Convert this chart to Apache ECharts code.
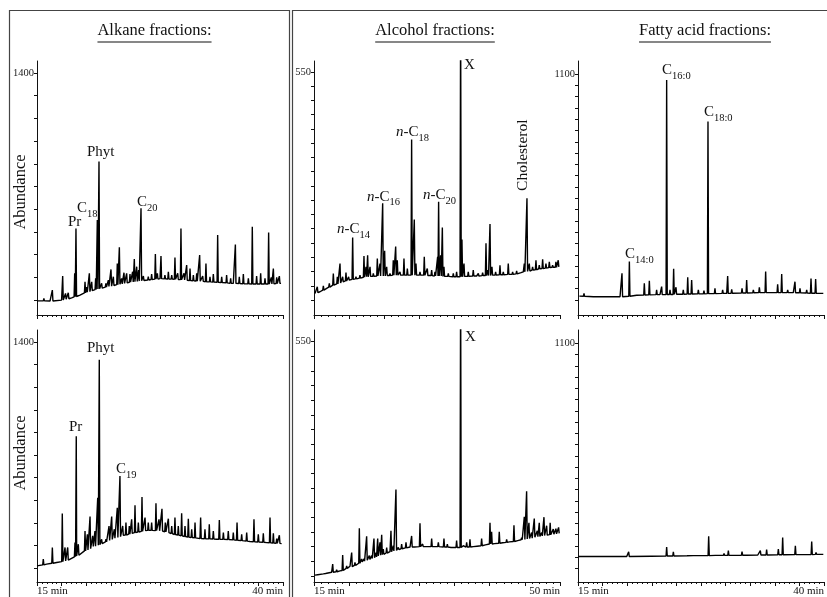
<!DOCTYPE html>
<html><head><meta charset="utf-8">
<script src="https://cdn.jsdelivr.net/npm/echarts@6/dist/echarts.min.js"></script>
<style>html,body{margin:0;padding:0;background:#fff}#c{width:827px;height:597px}</style>
</head><body><div id="c"></div>
<script>
// ---------------- DATA ----------------
// Each trace = baseline points [time, abundance] + peaks [time, apex, foot]
const alkTopBase = [[15.0,-5],[16.32,-6],[17.5,0],[18.52,14],[19.37,31],[20.2,51],[21.4,72],[22.42,86],[23.77,103],[25.47,119],[27.5,132],[29.19,128],[30.89,119],[32.92,111],[34.95,103],[36.98,99],[38.34,99],[39.8,103]];
const alkTopPeaks = [[15.7,10,-5],[16.56,62,-6],[17.61,148,0],[17.9,41,5],[18.18,45,8],[18.83,165,20],[18.96,442,22],[19.88,113,45],[20.05,80,48],[20.32,165,52],[20.56,113,58],[20.96,134,65],[21.13,494,68],[21.3,854,70],[21.57,103,74],[22.0,103,80],[22.25,123,84],[22.52,189,86],[22.76,144,90],[23.16,226,95],[23.37,325,97],[23.6,134,100],[23.84,169,103],[24.11,165,106],[24.45,160,110],[24.72,175,112],[24.89,253,113],[25.13,206,115],[25.33,185,117],[25.57,566,119],[25.81,148,121],[26.31,144,124],[26.65,160,127],[27.03,284,129],[27.23,165,130],[27.6,271,132],[28.0,154,131],[28.35,175,130],[28.69,154,129],[29.02,263,128],[29.3,165,127],[29.63,442,126],[29.94,165,124],[30.21,216,122],[30.55,195,120],[30.89,154,119],[31.23,165,117],[31.53,278,116],[31.84,148,115],[32.17,226,113],[32.58,144,112],[32.92,160,111],[33.36,401,110],[33.77,144,108],[34.27,154,106],[34.68,134,104],[35.16,343,103],[35.56,144,102],[35.97,160,101],[36.48,134,100],[36.88,452,99],[37.32,148,99],[37.73,165,99],[38.17,134,99],[38.54,416,99],[38.81,140,100],[39.02,195,101],[39.36,140,102],[39.63,148,103]];

const alkBotBase = [[15.0,14],[15.98,25],[17.0,35],[18.01,51],[19.03,76],[19.88,107],[20.72,134],[21.74,158],[22.76,183],[23.77,204],[24.79,220],[26.14,234],[27.5,230],[28.85,210],[30.21,193],[31.56,183],[33.26,179],[34.95,175],[36.65,165],[38.34,158],[39.86,152]];
const alkBotPeaks = [[15.64,56,20],[16.56,128,30],[17.57,339,40],[17.85,128,45],[18.12,128,50],[18.86,158,70],[18.99,817,75],[19.2,148,80],[19.88,230,107],[20.12,210,112],[20.39,319,120],[20.66,200,130],[20.89,230,136],[21.17,436,142],[21.33,1290,145],[21.57,179,152],[22.01,179,162],[22.32,261,172],[22.59,319,178],[22.86,241,185],[23.16,374,190],[23.43,570,195],[23.71,261,200],[24.04,282,205],[24.38,261,210],[24.62,302,215],[24.96,389,220],[25.3,282,224],[25.67,440,228],[25.98,313,232],[26.31,282,234],[26.65,282,234],[27.09,401,232],[27.4,302,231],[27.7,368,230],[28.04,282,225],[28.35,306,220],[28.69,261,214],[29.02,313,208],[29.36,261,204],[29.7,339,200],[30.04,261,196],[30.38,306,192],[30.72,241,190],[31.06,282,187],[31.63,313,183],[32.07,241,182],[32.51,271,181],[32.92,230,180],[33.53,298,179],[33.94,220,178],[34.44,230,177],[34.95,220,175],[35.33,282,173],[35.8,210,170],[36.31,220,167],[37.05,302,163],[37.49,210,162],[38.0,216,160],[38.68,313,157],[39.02,216,155],[39.36,183,154],[39.63,204,153]];

const alcTopBase = [[15.14,16],[15.85,20],[16.8,28],[17.75,36],[19.17,44],[20.6,50],[22.49,56],[24.39,58],[26.76,60],[29.6,60],[32.45,58],[35.29,56],[38.14,58],[40.98,60],[43.83,63],[44.78,68],[46.67,74],[48.57,78],[49.9,80]];
const alcTopPeaks = [[15.47,32,18],[16.33,34,24],[17.18,40,31],[17.75,64,36],[18.32,56,39],[18.7,88,41],[19.08,56,44],[19.55,66,46],[19.93,56,48],[20.5,151,50],[20.97,56,51],[21.54,60,53],[22.11,106,55],[22.4,80,56],[22.63,108,56],[22.97,80,57],[23.44,64,57],[24.01,100,58],[24.39,88,58],[24.77,233,58],[25.05,119,58],[25.34,80,59],[25.81,64,59],[26.28,96,60],[26.62,129,60],[26.85,96,60],[27.23,68,60],[27.8,100,60],[28.28,76,60],[28.89,387,60],[29.27,194,60],[29.51,88,60],[30.08,68,60],[30.69,104,60],[31.12,76,59],[31.74,72,59],[32.21,68,58],[32.59,104,58],[32.73,237,58],[33.02,108,58],[33.26,175,57],[33.49,80,57],[34.11,64,57],[34.82,64,56],[35.29,68,56],[35.86,700,56],[36.05,146,56],[36.34,88,57],[36.95,68,57],[37.66,72,58],[38.38,64,58],[38.99,66,59],[39.47,137,59],[39.75,72,59],[40.04,183,59],[40.32,80,60],[40.84,68,60],[41.46,84,61],[41.93,68,61],[42.64,88,62],[43.26,68,62],[43.83,70,63],[44.54,64,66],[44.92,88,68],[45.3,245,69],[45.63,88,70],[46.1,80,72],[46.58,96,73],[47.05,84,75],[47.53,98,76],[48.0,88,77],[48.48,92,78],[48.95,84,79],[49.42,92,79],[49.75,96,80]];

const alcBotBase = [[15.14,2],[16.33,5],[17.51,9],[18.7,12],[20.12,23],[21.54,32],[22.97,40],[24.39,49],[25.81,57],[27.23,63],[28.66,68],[30.55,69],[32.92,69],[35.29,67],[37.66,69],[40.04,75],[42.41,79],[44.78,86],[47.15,94],[48.57,97],[49.9,100]];
const alcBotPeaks = [[15.62,7,3],[16.56,9,6],[17.66,28,9],[18.22,15,10],[19.08,49,13],[19.65,24,18],[20.36,55,22],[20.83,32,25],[21.45,112,30],[21.78,40,33],[22.11,40,35],[22.49,93,37],[22.87,48,39],[23.2,48,41],[23.53,88,43],[23.82,55,45],[24.06,88,47],[24.39,79,49],[24.63,97,50],[24.86,63,51],[25.34,67,54],[25.95,106,57],[26.28,71,59],[26.66,203,60],[27.0,67,62],[27.47,75,64],[28.09,79,66],[28.89,94,68],[29.37,67,68],[30.08,124,69],[30.46,75,69],[31.03,67,69],[31.74,88,69],[32.21,71,69],[32.69,79,69],[33.49,88,68],[33.97,75,68],[34.58,71,67],[35.29,83,67],[35.86,700,67],[36.24,71,68],[36.72,79,68],[37.19,86,68],[37.76,72,69],[38.28,71,70],[38.85,88,71],[39.47,75,73],[40.04,125,75],[40.27,104,75],[40.75,79,76],[41.36,104,77],[41.93,79,78],[42.41,86,79],[42.88,83,80],[43.45,119,81],[44.07,86,83],[44.54,90,85],[44.92,139,86],[45.25,199,87],[45.58,125,88],[45.96,102,89],[46.34,135,91],[46.77,106,92],[47.05,125,93],[47.39,102,94],[47.72,138,95],[48.1,118,96],[48.6,125,97],[49.04,110,98],[49.42,111,99],[49.8,114,100]];

const fatTopBase = [[15.14,19],[16.56,16],[19.27,16],[20.96,23],[23.33,26],[26.72,29],[30.11,32],[33.5,36],[36.88,36],[39.93,32]];
const fatTopPeaks = [[15.61,32,18],[19.47,130,16],[20.22,187,18],[21.03,29,23],[21.74,81,24],[22.25,94,25],[22.99,49,26],[23.5,65,26],[24.01,1071,27],[24.35,49,27],[24.72,152,27],[24.96,62,28],[25.7,49,28],[26.15,110,29],[26.55,97,29],[27.23,49,30],[27.8,45,30],[28.21,868,31],[28.92,57,31],[29.7,49,32],[30.21,117,32],[30.62,52,33],[31.67,57,34],[32.14,97,34],[32.82,49,35],[33.43,62,36],[34.07,138,36],[34.68,45,36],[35.29,76,36],[35.7,127,36],[36.31,49,36],[37.05,89,35],[37.56,57,35],[38.24,49,34],[38.68,105,33],[39.15,102,33],[39.59,41,32]];

const fatBotBase = [[15.03,58],[19.95,58],[26.72,62],[33.5,65],[39.93,68]];
const fatBotPeaks = [[17.07,65,58],[20.15,81,58],[22.49,62,59],[24.01,104,60],[24.69,81,60],[26.15,66,61],[28.28,156,62],[29.02,66,63],[29.84,73,63],[30.28,86,63],[31.67,81,64],[32.21,70,64],[33.33,70,65],[33.53,86,65],[34.17,91,65],[35.36,94,66],[35.8,151,66],[37.09,110,67],[38.75,131,67],[39.19,78,68],[39.59,70,68]];

// axis tick labels
const alkYLabels = [1400], alcYLabels = [550], fatYLabels = [1100];
const alkXLabels = [15, 40], alcXLabels = [15, 50], fatXLabels = [15, 40];
const panelTitles = ['Alkane fractions:', 'Alcohol fractions:', 'Fatty acid fractions:'];
const yTitle = 'Abundance';

// peak annotations: [main, subscript, time, abundance] (bottom-left of text)
const alkTopLabels = [['Pr','',18.15,432],['C','18',19.07,518],['Phyt','',20.08,864],['C','20',25.16,555]];
const alkBotLabels = [['Pr','',18.25,827],['Phyt','',20.08,1314],['C','19',23.03,568]];
const alcTopLabels = [['n-C','14',18.27,152],['n-C','16',22.54,231],['n-C','18',26.66,386],['n-C','20',30.5,234],['X','',36.34,547]];
const alcTopRotLabels = [['Cholesterol',44.73,349]];
const alcBotLabels = [['X','',36.48,542]];
const fatTopLabels = [['C','16:0',23.54,1080],['C','18:0',27.8,876],['C','14:0',19.78,185]];

// ---------------- CHART ----------------
const FONTF = '"Liberation Serif", "Times New Roman", serif';
function buildTrace(base, peaks, hw) {
  const pts = base.map(p => [p[0], p[1]]);
  peaks.forEach(p => { pts.push([p[0] - hw, p[2]], [p[0], p[1]], [p[0] + hw, p[2]]); });
  pts.sort((a, b) => a[0] - b[0]);
  return pts;
}
function range(a, b, step) { const r = []; for (let v = a; v <= b + 1e-9; v += step) r.push(+v.toFixed(4)); return r; }

const grids = [
  {left: 37, top: 61, width: 246, height: 254},
  {left: 37, top: 330, width: 246, height: 253},
  {left: 314, top: 61, width: 246, height: 254},
  {left: 314, top: 330, width: 246, height: 253},
  {left: 578, top: 61, width: 246, height: 254},
  {left: 578, top: 330, width: 246, height: 253}
];
const panels = [
  {trace: buildTrace(alkTopBase, alkTopPeaks, 0.06), xmax: 40, xint: 2.5, ymin: -92, ymax: 1474, yticks: range(0,1400,140), ylab: alkYLabels, xlab: null},
  {trace: buildTrace(alkBotBase, alkBotPeaks, 0.06), xmax: 40, xint: 2.5, ymin: -86, ymax: 1475, yticks: range(0,1400,140), ylab: alkYLabels, xlab: alkXLabels},
  {trace: buildTrace(alcTopBase, alcTopPeaks, 0.085), xmax: 50, xint: 5, ymin: -36, ymax: 576, yticks: range(0,550,550/16), ylab: alcYLabels, xlab: null},
  {trace: buildTrace(alcBotBase, alcBotPeaks, 0.085), xmax: 50, xint: 5, ymin: -14, ymax: 577, yticks: range(0,550,550/16), ylab: alcYLabels, xlab: alcXLabels},
  {trace: buildTrace(fatTopBase, fatTopPeaks, 0.06), xmax: 40, xint: 2.5, ymin: -73, ymax: 1163, yticks: range(0,1100,55), ylab: fatYLabels, xlab: null},
  {trace: buildTrace(fatBotBase, fatBotPeaks, 0.06), xmax: 40, xint: 2.5, ymin: -67, ymax: 1165, yticks: range(0,1100,55), ylab: fatYLabels, xlab: fatXLabels}
];

const AX = '#111';
const option = {
  animation: false,
  backgroundColor: '#fff',
  grid: grids,
  xAxis: panels.map((p, i) => ({
    type: 'value', gridIndex: i, min: 15, max: p.xmax, interval: p.xint,
    axisLine: {show: true, onZero: false, lineStyle: {color: AX, width: 1}},
    axisTick: {show: true, length: 4, lineStyle: {color: AX, width: 1}},
    minorTick: {show: true, splitNumber: 5, length: 2, lineStyle: {color: AX, width: 1}},
    splitLine: {show: false}, minorSplitLine: {show: false},
    axisLabel: p.xlab ? {show: true, customValues: p.xlab, formatter: v => v + ' min',
      fontSize: 11, fontFamily: FONTF, color: AX, margin: 4,
      alignMinLabel: 'left', alignMaxLabel: 'right'} : {show: false}
  })),
  yAxis: panels.map((p, i) => ({
    type: 'value', gridIndex: i, min: p.ymin, max: p.ymax,
    axisLine: {show: true, lineStyle: {color: AX, width: 1}},
    axisTick: {show: true, length: 3, customValues: p.yticks, lineStyle: {color: AX, width: 1}},
    splitLine: {show: false},
    axisLabel: {show: true, customValues: p.ylab, formatter: v => String(Math.round(v)),
      fontSize: 10.5, fontFamily: FONTF, color: '#222', margin: 3}
  })),
  series: panels.map((p, i) => ({
    type: 'line', xAxisIndex: i, yAxisIndex: i, data: p.trace, showSymbol: false,
    symbol: 'none', clip: true, sampling: null,
    lineStyle: {color: '#000', width: 1.4}, silent: true
  }))
};

const chart = echarts.init(document.getElementById('c'), null, {renderer: 'canvas'});
chart.setOption(option);

// ---------- annotations ----------
const ctx = document.createElement('canvas').getContext('2d');
function tw(text, font) { ctx.font = font; return ctx.measureText(text).width; }
const MAIN = '15px ' + FONTF, ITAL = 'italic 15px ' + FONTF, SUB = '10.5px ' + FONTF;
const g = [];
// frames
g.push({type: 'rect', shape: {x: 9.5, y: 10.5, width: 280, height: 640}, style: {fill: 'none', stroke: '#444', lineWidth: 1.2}, silent: true});
g.push({type: 'rect', shape: {x: 292.5, y: 10.5, width: 560, height: 640}, style: {fill: 'none', stroke: '#444', lineWidth: 1.2}, silent: true});
// titles
const TF = '16.5px ' + FONTF;
[154.5, 435, 705].forEach((cx, k) => {
  const w = tw(panelTitles[k], TF);
  g.push({type: 'text', x: cx, y: 31, style: {text: panelTitles[k], font: TF, fill: '#111', textAlign: 'center', textVerticalAlign: 'middle'}, silent: true});
  g.push({type: 'line', shape: {x1: cx - w / 2, y1: 42, x2: cx + w / 2, y2: 42}, style: {stroke: '#111', lineWidth: 1.2}, silent: true});
});
// y titles
[192, 453].forEach(cy => {
  g.push({type: 'text', x: 21, y: cy, rotation: Math.PI / 2, style: {text: yTitle, font: '16.5px ' + FONTF, fill: '#111', textAlign: 'center', textVerticalAlign: 'middle'}, silent: true});
});
function addLabels(gi, list) {
  list.forEach(l => {
    const pt = chart.convertToPixel({gridIndex: gi}, [l[2], l[3]]);
    let x = pt[0]; const y = pt[1];
    let main = l[0];
    if (main.startsWith('n-')) {
      g.push({type: 'text', x: x, y: y, style: {text: 'n', font: ITAL, fill: '#111', textAlign: 'left', textVerticalAlign: 'bottom'}, silent: true});
      x += tw('n', ITAL); main = main.slice(1);
    }
    g.push({type: 'text', x: x, y: y, style: {text: main, font: MAIN, fill: '#111', textAlign: 'left', textVerticalAlign: 'bottom'}, silent: true});
    x += tw(main, MAIN);
    if (l[1]) g.push({type: 'text', x: x, y: y + 4, style: {text: l[1], font: SUB, fill: '#111', textAlign: 'left', textVerticalAlign: 'bottom'}, silent: true});
  });
}
addLabels(0, alkTopLabels);
addLabels(1, alkBotLabels);
addLabels(2, alcTopLabels);
addLabels(3, alcBotLabels);
addLabels(4, fatTopLabels);
alcTopRotLabels.forEach(l => {
  const pt = chart.convertToPixel({gridIndex: 2}, [l[1], l[2]]);
  g.push({type: 'text', x: pt[0], y: pt[1], rotation: Math.PI / 2, style: {text: l[0], font: '15.5px ' + FONTF, fill: '#111', textAlign: 'center', textVerticalAlign: 'middle'}, silent: true});
});
chart.setOption({graphic: g});
</script></body></html>
